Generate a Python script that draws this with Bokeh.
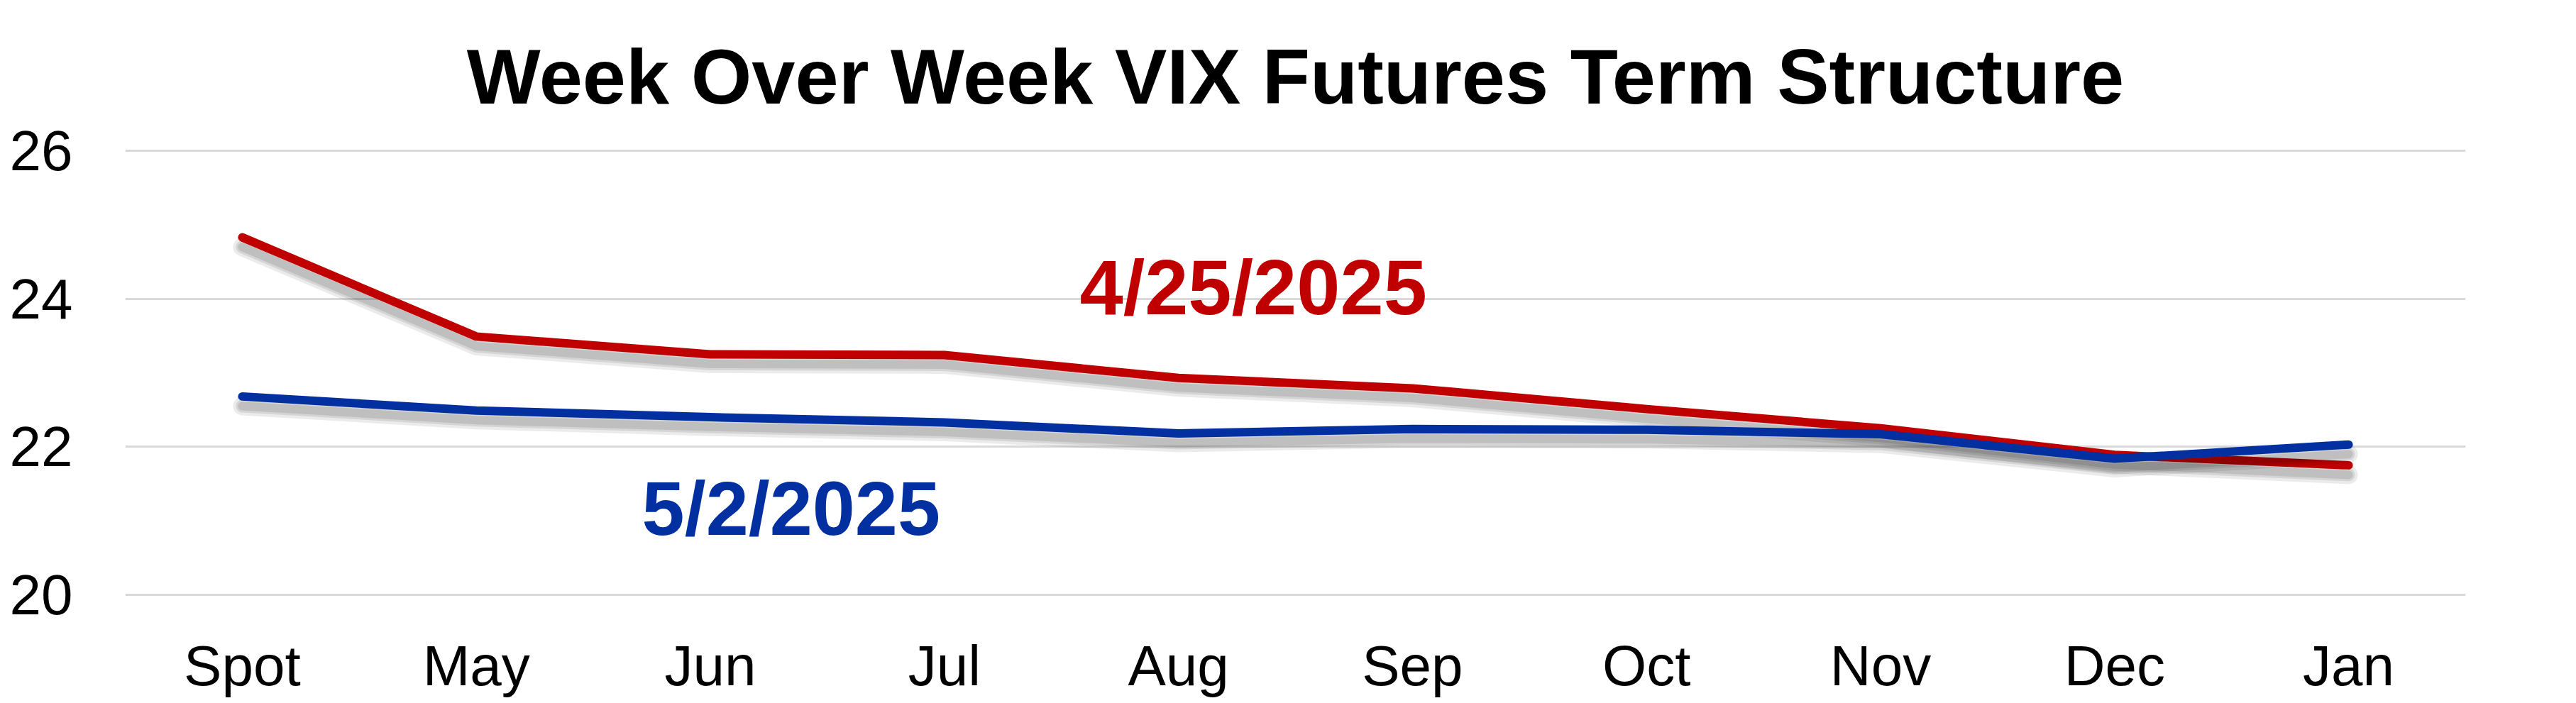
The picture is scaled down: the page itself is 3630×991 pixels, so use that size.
from bokeh.plotting import figure
from bokeh.models import ColumnDataSource, Range1d, FixedTicker, Label
from bokeh.transform import dodge
from bokeh.embed import file_html
from bokeh.resources import INLINE

# ---- data ----
categories = ["Spot", "May", "Jun", "Jul", "Aug", "Sep", "Oct", "Nov", "Dec", "Jan"]
series_0425 = [24.83, 23.49, 23.25, 23.24, 22.93, 22.79, 22.51, 22.25, 21.89, 21.75]
series_0502 = [22.68, 22.49, 22.40, 22.33, 22.18, 22.24, 22.23, 22.17, 21.84, 22.03]
y_ticks = [20, 22, 24, 26]
title_text = "Week Over Week VIX Futures Term Structure"
label_0425 = "4/25/2025"
label_0502 = "5/2/2025"

RED = "#C00000"
BLUE = "#0330A1"
FONT = "Liberation Sans"

idx = list(range(len(categories)))
source = ColumnDataSource(dict(x=idx, red=series_0425, blue=series_0502))

p = figure(width=3614, height=985, output_backend="svg", toolbar_location=None,
           x_range=Range1d(-0.5, len(categories) - 0.5), y_range=Range1d(19.98, 26.02),
           title=title_text,
           min_border_left=176, min_border_right=140,
           min_border_top=210, min_border_bottom=141)

p.title.text_font = FONT
p.title.text_font_size = "110px"
p.title.text_font_style = "bold"
p.title.text_color = "black"
p.title.align = "center"
p.title.standoff = 84

p.outline_line_color = None
p.background_fill_color = "white"
p.border_fill_color = "white"

p.xgrid.visible = False
p.ygrid.grid_line_color = "#D9D9D9"
p.ygrid.grid_line_width = 3

p.xaxis.ticker = FixedTicker(ticks=idx)
p.xaxis.major_label_overrides = {i: c for i, c in zip(idx, categories)}
p.yaxis.ticker = FixedTicker(ticks=y_ticks)

for ax in (p.xaxis[0], p.yaxis[0]):
    ax.axis_line_color = None
    ax.major_tick_line_color = None
    ax.minor_tick_line_color = None
    ax.major_label_text_font = FONT
    ax.major_label_text_font_size = "80px"
    ax.major_label_text_color = "black"
p.xaxis.major_label_standoff = 47
p.yaxis.major_label_standoff = 68

# shadows + lines
def series(col, color):
    for w, a in ((26, 0.08), (18, 0.09), (12, 0.1)):
        p.line(x="x", y=dodge(col, -0.13, range=p.y_range), source=source,
               line_color="black", line_alpha=a, line_width=w,
               line_cap="round", line_join="round")
    p.line(x="x", y=col, source=source, line_color=color, line_width=12,
           line_cap="round", line_join="round")

series("red", RED)
series("blue", BLUE)

p.add_layout(Label(x=4.32, y=24.16, text=label_0425, text_align="center",
                   text_baseline="alphabetic", text_font=FONT, text_font_size="110px",
                   text_font_style="bold", text_color=RED))
p.add_layout(Label(x=2.345, y=21.17, text=label_0502, text_align="center",
                   text_baseline="alphabetic", text_font=FONT, text_font_size="108px",
                   text_font_style="bold", text_color=BLUE))

open("out.html", "w").write(file_html(p, INLINE))
